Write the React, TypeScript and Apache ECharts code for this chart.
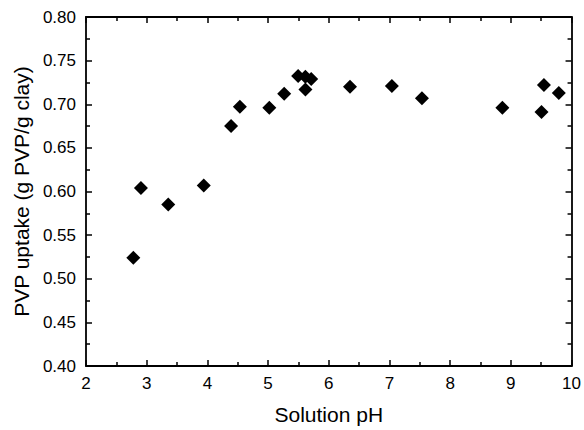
import React, { useEffect, useRef } from "react";
import * as echarts from "echarts";

const phValues = [2.78, 2.905, 3.355, 3.94, 4.39, 4.535, 5.02, 5.265, 5.495, 5.615, 5.71, 5.616, 6.35, 7.04, 7.535, 8.86, 9.505, 9.545, 9.79];
const uptakeValues = [0.524, 0.604, 0.585, 0.607, 0.675, 0.697, 0.696, 0.712, 0.7324, 0.7316, 0.729, 0.717, 0.72, 0.721, 0.707, 0.696, 0.691, 0.722, 0.713];

const xTitle = "Solution pH";
const yTitle = "PVP uptake (g PVP/g clay)";

export default function App() {
  const ref = useRef<HTMLDivElement>(null);
  useEffect(() => {
    document.body.style.margin = "0";
    const chart = echarts.init(ref.current!, null, { renderer: "svg" });
    const font = "Liberation Sans";
    const lineStyle = { color: "#000", width: 1.8 };
    const baseX = {
      type: "value" as const,
      min: 2,
      max: 10,
      interval: 1,
      splitLine: { show: false },
      axisLine: { show: true, onZero: false, lineStyle },
      axisTick: { show: true, inside: true, length: 6, lineStyle: { color: "#000", width: 1.5 } },
      minorTick: { show: true, splitNumber: 2, length: 4, lineStyle: { color: "#000", width: 1.5 } },
    };
    const baseY = {
      type: "value" as const,
      min: 0.4,
      max: 0.8,
      interval: 0.05,
      splitLine: { show: false },
      axisLine: { show: true, onZero: false, lineStyle },
      axisTick: { show: true, inside: true, length: 6, lineStyle: { color: "#000", width: 1.5 } },
      minorTick: { show: true, splitNumber: 2, length: 4, lineStyle: { color: "#000", width: 1.5 } },
    };
    chart.setOption({
      animation: false,
      backgroundColor: "#fff",
      grid: { left: 86, right: 12, top: 17, bottom: 62, containLabel: false },
      xAxis: [
        {
          ...baseX,
          position: "bottom",
          name: xTitle,
          nameLocation: "middle",
          nameGap: 38,
          nameTextStyle: { fontFamily: font, fontSize: 21, color: "#000" },
          axisLabel: { fontFamily: font, fontSize: 17, color: "#000", margin: 9 },
        },
        {
          ...baseX,
          position: "top",
          axisLabel: { show: false },
        },
      ],
      yAxis: [
        {
          ...baseY,
          position: "left",
          name: yTitle,
          nameLocation: "middle",
          nameGap: 53,
          nameRotate: 90,
          nameTextStyle: { fontFamily: font, fontSize: 21, color: "#000" },
          axisLabel: {
            fontFamily: font,
            fontSize: 17,
            color: "#000",
            margin: 10,
            formatter: (v: number) => v.toFixed(2),
          },
        },
        {
          ...baseY,
          position: "right",
          axisLabel: { show: false },
        },
      ],
      series: [
        {
          type: "scatter",
          symbol: "diamond",
          symbolSize: 14,
          itemStyle: { color: "#000", opacity: 1 },
          data: phValues.map((x, i) => [x, uptakeValues[i]]),
        },
      ],
    });
    return () => chart.dispose();
  }, []);
  return <div ref={ref} style={{ width: 584, height: 430 }} />;
}
